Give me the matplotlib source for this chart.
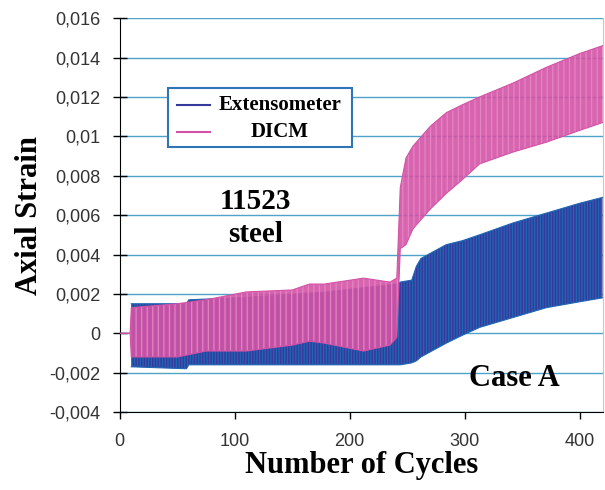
import matplotlib.pyplot as plt
from matplotlib.patches import Rectangle

# envelope (max / min strain of each cycle)
ext_cycles = [10, 58, 60, 100, 130, 180, 210, 241, 244, 254, 258, 262, 284, 298, 313, 342, 371, 400, 420]
ext_upper = [0.0015, 0.0015, 0.0017, 0.0018, 0.0019, 0.0021, 0.0023, 0.0025, 0.0026, 0.0027,
             0.0034, 0.0038, 0.0045, 0.0047, 0.0050, 0.0056, 0.0061, 0.0066, 0.0069]
ext_lower = [-0.0017, -0.0018, -0.0016, -0.0016, -0.0016, -0.0016, -0.0016, -0.0016, -0.0016, -0.0015,
             -0.0014, -0.0012, -0.0005, -0.0001, 0.0003, 0.0008, 0.0013, 0.0016, 0.0018]

dicm_cycles = [0, 9, 10, 50, 75, 110, 150, 165, 178, 212, 235, 241, 244, 249, 255, 270, 284, 298,
               313, 342, 371, 400, 420]
dicm_upper = [0, 0, 0.0013, 0.0015, 0.0017, 0.0021, 0.0022, 0.0025, 0.0025, 0.0028, 0.0026, 0.0028,
              0.0074, 0.0089, 0.0095, 0.0105, 0.0112, 0.0116, 0.0120, 0.0127, 0.0135, 0.0142, 0.0146]
dicm_lower = [0, 0, -0.0012, -0.0012, -0.0009, -0.0009, -0.0006, -0.0004, -0.0005, -0.0009, -0.0006, -0.0002,
              0.0043, 0.0045, 0.0053, 0.0063, 0.0071, 0.0078, 0.0086, 0.0092, 0.0097, 0.0103, 0.0107]

y_ticks = [-0.004, -0.002, 0, 0.002, 0.004, 0.006, 0.008, 0.01, 0.012, 0.014, 0.016]
y_labels = ['-0,004', '-0,002', '0', '0,002', '0,004', '0,006', '0,008', '0,01', '0,012', '0,014', '0,016']
x_ticks = [0, 100, 200, 300, 400]

blue = '#363a9c'
blue_light = '#2166b4'
pink = '#d452a6'
pink_light = '#e48ac4'
grid_col = '#4fa3c7'

plt.rcParams['hatch.linewidth'] = 0.9
serif = 'Liberation Serif'
sans = 'Liberation Sans'

fig = plt.figure(figsize=(6.05, 4.9), dpi=100)
ax = fig.add_axes([0.198, 0.159, 0.798, 0.804])

for y in y_ticks:
    ax.axhline(y, color=grid_col, lw=1.0, zorder=0)

# extensometer signal
ax.fill_between(ext_cycles, ext_lower, ext_upper, facecolor=blue, edgecolor=blue_light,
                hatch='||||||', linewidth=0, zorder=2)
ax.plot(ext_cycles, ext_upper, color=blue_light, lw=0.8, zorder=2)
ax.plot(ext_cycles, ext_lower, color=blue_light, lw=0.8, zorder=2)

# DICM signal
ax.fill_between(dicm_cycles, dicm_lower, dicm_upper, facecolor=pink, edgecolor=pink_light,
                hatch='|||', linewidth=0, alpha=0.9, zorder=3)
ax.plot(dicm_cycles, dicm_upper, color=pink, lw=0.8, zorder=3)
ax.plot(dicm_cycles, dicm_lower, color=pink, lw=0.8, zorder=3)

ax.set_xlim(0, 420)
ax.set_ylim(-0.004, 0.016)
ax.set_yticks(y_ticks)
ax.set_yticklabels(y_labels, fontfamily=sans, fontsize=13, color='#333333')
ax.set_xticks(x_ticks)
ax.set_xticklabels([str(t) for t in x_ticks], fontfamily=sans, fontsize=13, color='#333333')
ax.tick_params(axis='y', direction='inout', length=10, width=1, pad=9)
ax.tick_params(axis='x', direction='out', length=5, width=1, pad=10)

ax.spines['top'].set_visible(False)
ax.spines['right'].set_color('#c8c8c8')
ax.spines['left'].set_color('black')
ax.spines['bottom'].set_color('black')

ax.set_xlabel('Number of Cycles', fontfamily=serif, fontweight='bold', fontsize=22, labelpad=1)
ax.set_ylabel('Axial Strain', fontfamily=serif, fontweight='bold', fontsize=22, labelpad=4)

ax.text(0.281, 0.492, '11523\nsteel', transform=ax.transAxes, ha='center', va='center',
        fontfamily=serif, fontweight='bold', fontsize=21, linespacing=1.3, zorder=5)
ax.text(0.818, 0.086, 'Case A', transform=ax.transAxes, ha='center', va='center',
        fontfamily=serif, fontweight='bold', fontsize=22, zorder=5)

# legend box drawn by hand so the labels can be centred
ax.add_patch(Rectangle((0.099, 0.673), 0.381, 0.149, transform=ax.transAxes,
                       facecolor='white', edgecolor='#2f74b5', lw=1.5, zorder=6))
ax.plot([0.118, 0.186], [0.779, 0.779], transform=ax.transAxes, color=blue, lw=1.5, zorder=7)
ax.plot([0.118, 0.186], [0.711, 0.711], transform=ax.transAxes, color=pink, lw=1.5, zorder=7)
ax.text(0.331, 0.779, 'Extensometer', transform=ax.transAxes, ha='center', va='center',
        fontfamily=serif, fontweight='bold', fontsize=15, zorder=7)
ax.text(0.331, 0.711, 'DICM', transform=ax.transAxes, ha='center', va='center',
        fontfamily=serif, fontweight='bold', fontsize=15, zorder=7)

fig.savefig('out.png', dpi=100, facecolor='white')
